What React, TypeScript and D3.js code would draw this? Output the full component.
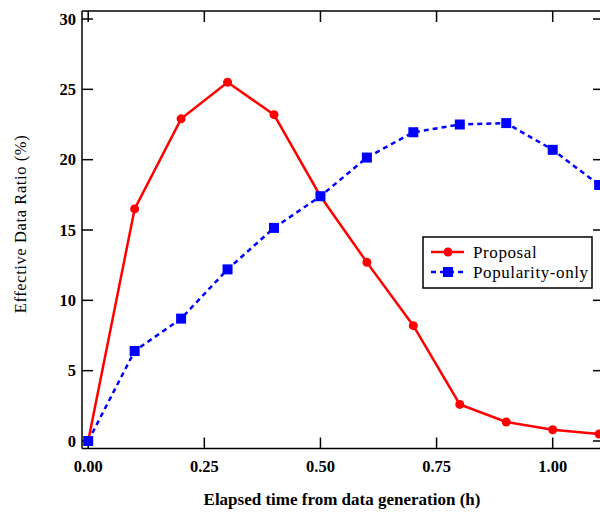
import React from "react";
import * as d3 from "d3";

const xValues = [0, 0.1, 0.2, 0.3, 0.4, 0.5, 0.6, 0.7, 0.8, 0.9, 1.0, 1.1];
const proposal = [0, 16.5, 22.9, 25.5, 23.2, 17.4, 12.7, 8.2, 2.6, 1.35, 0.8, 0.5];
const popularity = [0, 6.4, 8.7, 12.2, 15.15, 17.4, 20.15, 21.95, 22.5, 22.6, 20.7, 18.2];
const xTicks = [0, 0.25, 0.5, 0.75, 1.0];
const yTicks = [0, 5, 10, 15, 20, 25, 30];
const seriesNames = ["Proposal", "Popularity-only"];
const xTitle = "Elapsed time from data generation (h)";
const yTitle = "Effective Data Ratio (%)";

const W = 600;
const H = 516;
const left = 82;
const right = 604;
const top = 11;
const bottom = 448.5;

export default function App() {
  const x = d3.scaleLinear().domain([0, 1]).range([88.2, 552.7]);
  const y = d3.scaleLinear().domain([0, 30]).range([441, 19]);
  const line = d3
    .line<[number, number]>()
    .x((d) => x(d[0]))
    .y((d) => y(d[1]));
  const pData = xValues.map((v, i) => [v, proposal[i]] as [number, number]);
  const bData = xValues.map((v, i) => [v, popularity[i]] as [number, number]);
  const font = "'Liberation Serif', 'Times New Roman', serif";
  const tick = 11;
  return (
    <svg
      width={W}
      height={H}
      style={{ position: "absolute", left: 0, top: 0, background: "#fff" }}
      fontFamily={font}
    >
      <rect x={0} y={0} width={W} height={H} fill="#fff" />
      {/* frame */}
      <g stroke="#000" strokeWidth={1.5} fill="none">
        <line x1={left} x2={right} y1={top} y2={top} />
        <line x1={left} x2={right} y1={bottom} y2={bottom} />
        <line x1={left} x2={left} y1={top} y2={bottom} />
        <line x1={right} x2={right} y1={top} y2={bottom} />
        {xTicks.map((t) => (
          <g key={"xt" + t}>
            <line x1={x(t)} x2={x(t)} y1={bottom} y2={bottom - tick} />
            <line x1={x(t)} x2={x(t)} y1={top} y2={top + tick} />
          </g>
        ))}
        {yTicks.map((t) => (
          <g key={"yt" + t}>
            <line x1={left} x2={left + tick} y1={y(t)} y2={y(t)} />
            <line x1={right} x2={right - tick} y1={y(t)} y2={y(t)} />
          </g>
        ))}
      </g>
      {xTicks.map((t) => (
        <text
          key={"xl" + t}
          x={x(t)}
          y={471.5}
          textAnchor="middle"
          fontSize={16.5}
          fontWeight="bold"
        >
          {d3.format(".2f")(t)}
        </text>
      ))}
      {yTicks.map((t) => (
        <text
          key={"yl" + t}
          x={76}
          y={y(t)}
          dy="0.35em"
          textAnchor="end"
          fontSize={16.5}
          fontWeight="bold"
        >
          {t}
        </text>
      ))}
      <text x={342} y={505} textAnchor="middle" fontSize={17} fontWeight="bold">
        {xTitle}
      </text>
      <text
        transform={`translate(26,224) rotate(-90)`}
        textAnchor="middle"
        fontSize={16.5}
        letterSpacing={0.6}
      >
        {yTitle}
      </text>
      {/* series */}
      <path d={line(pData) || ""} fill="none" stroke="#ff0000" strokeWidth={2.5} />
      <path
        d={line(bData) || ""}
        fill="none"
        stroke="#0000ff"
        strokeWidth={2.5}
        strokeDasharray="5,4"
      />
      {pData.map((d, i) => (
        <circle key={"pc" + i} cx={x(d[0])} cy={y(d[1])} r={4.5} fill="#ff0000" />
      ))}
      {bData.map((d, i) => (
        <rect
          key={"bs" + i}
          x={x(d[0]) - 5}
          y={y(d[1]) - 5}
          width={10}
          height={10}
          fill="#0000ff"
        />
      ))}
      {/* legend */}
      <g>
        <rect x={423} y={237} width={169} height={51} fill="#fff" stroke="#000" strokeWidth={1.5} />
        <line x1={431} x2={464} y1={252} y2={252} stroke="#ff0000" strokeWidth={2.5} />
        <circle cx={448} cy={252} r={4.5} fill="#ff0000" />
        <line
          x1={431}
          x2={464}
          y1={272}
          y2={272}
          stroke="#0000ff"
          strokeWidth={2.5}
          strokeDasharray="5,4"
        />
        <rect x={443} y={267} width={10} height={10} fill="#0000ff" />
        <text x={473} y={252} dy="0.35em" fontSize={17} letterSpacing={0.6}>
          {seriesNames[0]}
        </text>
        <text x={473} y={272} dy="0.35em" fontSize={17} letterSpacing={0.6}>
          {seriesNames[1]}
        </text>
      </g>
    </svg>
  );
}
